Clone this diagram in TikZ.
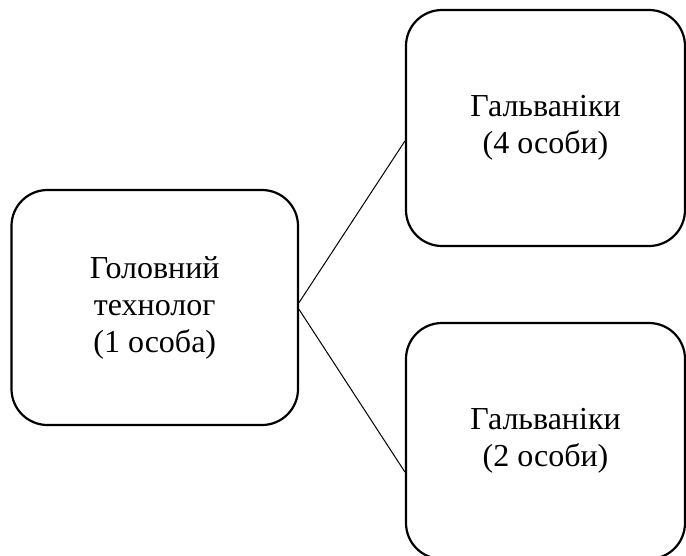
\documentclass[tikz,border=0pt]{standalone}
\usepackage{fontspec}
\setmainfont{Liberation Serif}
\begin{document}
\begin{tikzpicture}[x=1pt,y=-1pt,
  box/.style={draw=black,line width=2.2pt,rounded corners=36pt,align=center,
    font=\fontsize{32}{37}\selectfont,inner sep=0pt},
  link/.style={draw=black,line width=1pt}]
\useasboundingbox (0,0) rectangle (686,555);
\node[box,minimum width=286.5pt,minimum height=235pt] (L) at (154.75,307.5) {Головний\\технолог\\(1 особа)};
\node[box,minimum width=279pt,minimum height=236pt] (T) at (545.5,128) {Гальваніки\\(4 особи)};
\node[box,minimum width=279pt,minimum height=236pt] (B) at (545.5,441) {Гальваніки\\(2 особи)};
\draw[link] ([yshift=5pt]L.east) -- ([yshift=-13pt]T.west);
\draw[link] ([yshift=-2pt]L.east) -- ([yshift=-31pt]B.west);
\end{tikzpicture}
\end{document}
